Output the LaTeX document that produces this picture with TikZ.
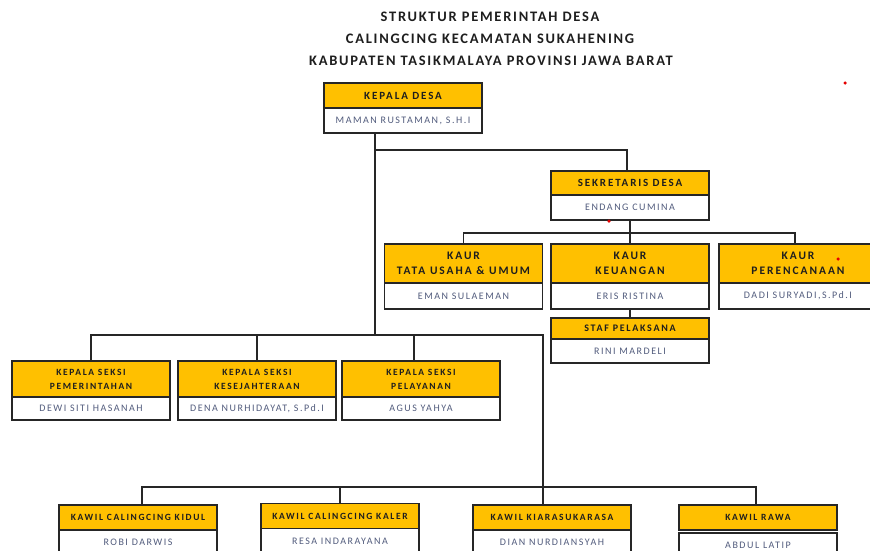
\documentclass[tikz,border=0pt]{standalone}
\usepackage{fontspec}
\usepackage{tikz}
\usetikzlibrary{positioning,shadows}
\newfontfamily\hurufkotak[LetterSpace=17]{Carlito}
\newfontfamily\hurufnama[LetterSpace=15]{Carlito}
\newfontfamily\hurufjudul[LetterSpace=12]{Carlito}
\definecolor{kuning}{RGB}{255,192,0}
\definecolor{birunama}{RGB}{82,92,125}
\definecolor{tinta}{RGB}{30,30,30}

\begin{document}
\begin{tikzpicture}[x=1pt,y=-1pt]
        %
        % `jabatan' is the yellow title part of each box,
        % `nama' is the white part with the name under it.
        % `garis' is used for all connecting lines.
        \tikzstyle{jabatan} = [draw=black!85,line width=1.2pt,fill=kuning,minimum width=158pt,minimum height=25pt,inner sep=1pt,outer sep=0pt,align=center,text=tinta,font=\hurufkotak\bfseries\fontsize{9.5}{14}\selectfont,drop shadow={shadow xshift=0.8pt,shadow yshift=-0.8pt,opacity=0.3}]
        \tikzstyle{nama} = [draw=black!85,line width=1.2pt,fill=white,minimum width=158pt,minimum height=25pt,inner sep=1pt,outer sep=0pt,text=birunama,font=\hurufnama\fontsize{10}{11}\selectfont,drop shadow={shadow xshift=0.8pt,shadow yshift=-0.8pt,opacity=0.3}]
        \tikzstyle{judul} = [text=tinta,font=\hurufjudul\bfseries\fontsize{14.5}{16}\selectfont]
        \tikzstyle{garis} = [draw=black!85,line width=1.2pt]
        \tikzstyle{titik} = [fill=red!90!black,shape=circle,minimum size=3.5pt,inner sep=0pt]
        %
        \path[use as bounding box,fill=white] (0,0) rectangle (870,550);
        %
        % Title
        \node[judul] (judul1) at (490,17) {STRUKTUR PEMERINTAH DESA};
        \node[judul] (judul2) at (490,39) {CALINGCING KECAMATAN SUKAHENING};
        \node[judul] (judul3) at (491,61) {KABUPATEN TASIKMALAYA PROVINSI JAWA BARAT};
        %
        % Kepala desa
        \node[jabatan,font=\hurufkotak\bfseries\fontsize{11}{14}\selectfont] (kades) at (403,95.5) {KEPALA DESA};
        \node[nama,below=0pt of kades] (kadesnama) {MAMAN RUSTAMAN, S.H.I};
        %
        % Sekretaris
        \node[jabatan,minimum height=24pt,font=\hurufkotak\bfseries\fontsize{11}{14}\selectfont] (sekdes) at (630,183) {SEKRETARIS DESA};
        \node[nama,below=0pt of sekdes] (sekdesnama) {ENDANG CUMINA};
        %
        % Kaur
        \node[jabatan,minimum height=39pt,font=\hurufkotak\bfseries\fontsize{11.5}{15}\selectfont] (kaur1) at (463.5,263.5) {KAUR\\TATA USAHA \& UMUM};
        \node[nama,minimum height=26pt,below=0pt of kaur1] (kaur1nama) {EMAN SULAEMAN};
        \node[jabatan,minimum height=39pt,font=\hurufkotak\bfseries\fontsize{11.5}{15}\selectfont] (kaur2) at (630,263.5) {KAUR\\KEUANGAN};
        \node[nama,minimum height=26pt,below=0pt of kaur2] (kaur2nama) {ERIS RISTINA};
        \node[jabatan,minimum height=39pt,font=\hurufkotak\bfseries\fontsize{11.5}{15}\selectfont] (kaur3) at (798,263.5) {KAUR\\PERENCANAAN};
        \node[nama,minimum height=26pt,below=0pt of kaur3] (kaur3nama) {DADI SURYADI,S.Pd.I};
        %
        % Staf
        \node[jabatan,minimum height=21pt,font=\hurufkotak\bfseries\fontsize{10}{14}\selectfont] (staf) at (630,328.5) {STAF PELAKSANA};
        \node[nama,minimum height=24pt,below=0pt of staf] (stafnama) {RINI MARDELI};
        %
        % Kepala seksi
        \node[jabatan,minimum height=36pt] (kasi1) at (91,379) {KEPALA SEKSI\\PEMERINTAHAN};
        \node[nama,minimum height=23pt,below=0pt of kasi1] (kasi1nama) {DEWI SITI HASANAH};
        \node[jabatan,minimum height=36pt] (kasi2) at (257,379) {KEPALA SEKSI\\KESEJAHTERAAN};
        \node[nama,minimum height=23pt,below=0pt of kasi2] (kasi2nama) {DENA NURHIDAYAT, S.Pd.I};
        \node[jabatan,minimum height=36pt] (kasi3) at (421,379) {KEPALA SEKSI\\PELAYANAN};
        \node[nama,minimum height=23pt,below=0pt of kasi3] (kasi3nama) {AGUS YAHYA};
        %
        % Kawil
        \node[jabatan] (kawil1) at (138,517.5) {KAWIL CALINGCING KIDUL};
        \node[nama,below=0pt of kawil1] (kawil1nama) {ROBI DARWIS};
        \node[jabatan] (kawil2) at (340,516) {KAWIL CALINGCING KALER};
        \node[nama,below=0pt of kawil2] (kawil2nama) {RESA INDARAYANA};
        \node[jabatan] (kawil3) at (552,517.5) {KAWIL KIARASUKARASA};
        \node[nama,below=0pt of kawil3] (kawil3nama) {DIAN NURDIANSYAH};
        \node[jabatan] (kawil4) at (758,517.5) {KAWIL RAWA};
        \node[nama,below=3pt of kawil4] (kawil4nama) {ABDUL LATIP};
        %
        % Lines
        \coordinate (belok) at (375,150);
        \coordinate (siku) at (375,335);
        \coordinate (ujung) at (543,335);
        \coordinate (sekbawah) at (630,233);
        \coordinate (cabang) at (543,487);
        \draw[garis] (kadesnama.south -| siku) -- (siku);
        \draw[garis] (belok) -| ([xshift=-3pt]sekdes.north);
        \draw[garis] (sekdesnama.south) -- (kaur2.north);
        \draw[garis] (kaur1.north) |- (sekbawah) -| ([xshift=-3pt]kaur3.north);
        \draw[garis] (kaur2nama.south) -- (staf.north);
        \draw[garis] (kasi1.north) |- (ujung) -- (cabang);
        \draw[garis] (kasi2.north) -- (kasi2.north |- siku);
        \draw[garis] ([xshift=-7pt]kasi3.north) -- ([xshift=-7pt]kasi3.north |- siku);
        \draw[garis] ([xshift=4pt]kawil1.north) |- (cabang) -| ([xshift=-2pt]kawil4.north);
        \draw[garis] (kawil2.north) -- (kawil2.north |- cabang);
        \draw[garis] (cabang) -- (cabang |- kawil3.north);
        %
        % Red marks
        \node[titik] (titik1) at (845,83) {};
        \node[titik] (titik2) at (609,221) {};
        \node[titik] (titik3) at (838,259) {};
        %
\end{tikzpicture}
\end{document}
